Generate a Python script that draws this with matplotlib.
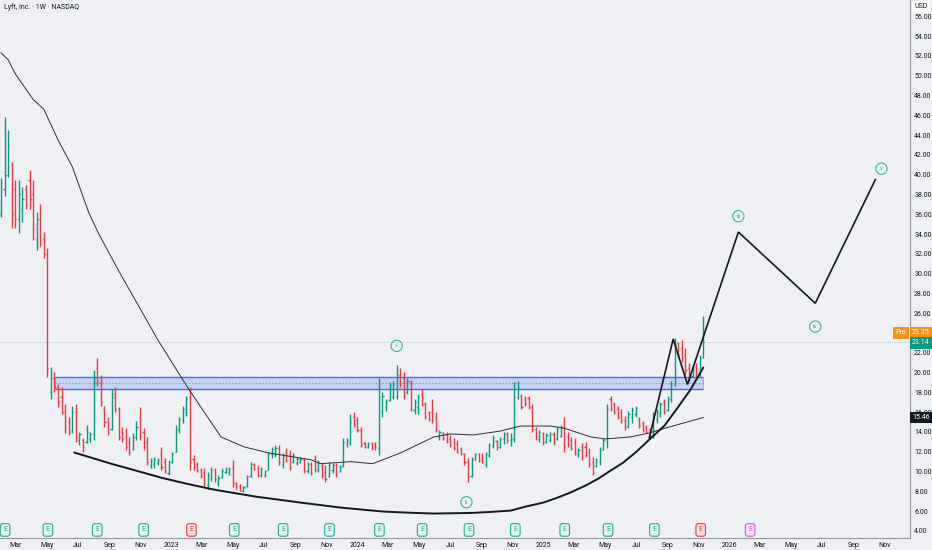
import matplotlib
matplotlib.use("Agg")
import matplotlib.pyplot as plt
import matplotlib.dates as mdates
import matplotlib.transforms as mtrans
from matplotlib.patches import Rectangle
import numpy as np
import pandas as pd

# --- weekly OHLC, LYFT, first week 2022-01-31 ---
first_week = "2022-01-31"
opens = [36.0, 38.5, 40.0, 41.0, 38.5, 35.5, 36.5, 38.5, 39.5, 38.0,
         33.5, 35.5, 33.5, 32.0, 18.0, 19.5, 18.5, 17.5, 16.0, 15.0,
         14.2, 16.0, 13.2, 13.2, 13.0, 13.3, 13.8, 20.5, 19.0, 16.3,
         15.0, 14.3, 17.8, 16.3, 14.0, 13.5, 13.0, 12.3, 13.5, 15.5,
         14.0, 13.0, 10.6, 10.8, 10.9, 11.8, 11.0, 9.9, 11.0, 12.0,
         14.2, 15.2, 16.0, 17.5, 11.3, 10.8, 10.2, 10.0, 8.6, 9.4,
         10.2, 8.8, 9.5, 10.0, 10.0, 10.5, 8.8, 8.5, 8.0, 8.5,
         9.6, 10.8, 10.4, 9.7, 9.7, 10.2, 11.8, 11.8, 12.4, 10.8,
         12.0, 11.8, 11.0, 10.9, 11.0, 11.2, 10.1, 10.8, 11.3, 10.2,
         10.6, 10.0, 9.6, 10.2, 10.7, 10.1, 10.6, 12.9, 13.0, 15.5,
         15.2, 14.2, 12.9, 12.5, 12.9, 12.8, 12.4, 16.0, 16.5, 17.2,
         17.5, 17.6, 19.8, 19.5, 18.0, 19.0, 16.2, 16.5, 17.8, 16.8,
         16.0, 16.0, 15.5, 13.5, 13.9, 13.8, 13.3, 13.0, 12.8, 12.3,
         11.8, 11.0, 9.6, 11.3, 11.8, 11.5, 10.8, 11.7, 12.6, 13.1,
         12.5, 13.3, 13.8, 13.2, 13.3, 17.5, 17.6, 17.3, 17.4, 16.5,
         14.3, 13.3, 13.9, 13.0, 13.2, 13.8, 13.3, 13.6, 14.5, 13.6,
         13.2, 13.0, 11.7, 12.5, 12.5, 12.0, 11.0, 10.6, 11.0, 12.3,
         13.0, 17.3, 16.8, 16.3, 16.0, 15.2, 14.6, 15.5, 15.8, 15.3,
         14.9, 14.5, 14.2, 13.5, 15.3, 15.8, 17.0, 16.2, 17.3, 18.7,
         23.0, 22.5, 21.8, 20.5, 19.7, 20.6, 19.9, 21.6]
highs = [39.7, 45.8, 44.5, 41.3, 39.5, 39.5, 38.7, 39.0, 40.5, 39.5,
         36.2, 37.0, 34.2, 32.6, 20.6, 20.1, 18.8, 18.5, 16.8, 15.5,
         16.6, 16.8, 14.0, 13.4, 14.7, 14.0, 20.3, 21.5, 19.8, 16.6,
         15.5, 18.3, 18.5, 16.5, 14.5, 14.4, 13.5, 13.9, 15.1, 16.5,
         14.4, 13.5, 11.4, 11.5, 11.4, 12.5, 11.4, 11.2, 12.0, 14.7,
         15.5, 16.6, 17.6, 18.5, 11.7, 11.0, 10.4, 10.4, 10.0, 10.5,
         10.4, 9.7, 10.4, 10.5, 10.5, 11.2, 8.9, 8.7, 8.5, 9.7,
         11.0, 10.9, 10.7, 10.5, 10.2, 12.0, 12.5, 12.7, 12.7, 11.9,
         12.4, 12.2, 11.9, 11.5, 11.5, 11.4, 11.0, 11.0, 11.7, 11.2,
         10.9, 10.7, 11.0, 10.9, 10.9, 10.7, 13.4, 13.4, 15.8, 16.0,
         15.5, 14.5, 13.0, 13.0, 13.0, 13.0, 19.5, 18.0, 17.3, 19.0,
         19.1, 20.8, 20.5, 20.1, 19.5, 19.3, 17.3, 17.8, 18.3, 17.0,
         16.1, 17.3, 16.0, 14.2, 14.0, 14.0, 13.7, 13.4, 13.2, 12.5,
         11.9, 11.4, 11.5, 11.9, 11.9, 11.9, 12.0, 12.9, 13.7, 13.2,
         13.5, 14.0, 14.0, 13.9, 19.0, 19.2, 17.8, 17.6, 17.6, 16.8,
         14.5, 14.2, 14.0, 13.9, 14.0, 14.0, 14.5, 14.7, 15.5, 14.0,
         13.5, 13.4, 12.4, 12.9, 13.0, 12.4, 11.5, 11.4, 12.5, 13.4,
         16.8, 17.6, 17.0, 16.6, 16.3, 15.6, 16.1, 16.5, 16.6, 15.5,
         15.1, 14.7, 14.4, 16.0, 16.3, 17.0, 17.3, 17.6, 19.1, 23.5,
         23.1, 23.3, 22.5, 21.0, 20.8, 21.0, 21.8, 25.7]
lows = [35.7, 37.8, 39.8, 34.6, 34.6, 34.1, 35.2, 36.5, 36.5, 33.4,
        32.4, 32.7, 31.6, 19.6, 17.3, 18.0, 16.5, 15.8, 13.9, 13.7,
        13.9, 13.0, 12.7, 12.0, 12.9, 13.0, 13.2, 18.6, 16.6, 14.5,
        13.7, 14.2, 16.0, 13.2, 13.0, 12.2, 11.7, 12.2, 13.2, 13.2,
        12.2, 10.7, 10.4, 10.4, 10.7, 10.2, 9.9, 9.7, 10.9, 12.0,
        13.9, 14.9, 15.6, 10.2, 10.2, 10.0, 9.4, 8.5, 8.2, 9.0,
        8.9, 8.5, 9.4, 9.9, 9.7, 8.4, 8.2, 8.0, 7.9, 8.4,
        9.5, 10.2, 9.5, 9.5, 9.5, 10.2, 11.4, 11.5, 10.7, 10.4,
        11.0, 10.2, 10.9, 10.7, 10.9, 9.9, 9.9, 9.7, 10.0, 10.0,
        9.4, 8.9, 9.5, 9.9, 9.5, 10.0, 10.5, 12.5, 12.7, 14.5,
        14.0, 12.5, 12.4, 12.4, 12.2, 12.2, 11.7, 15.5, 16.1, 17.1,
        17.3, 17.3, 18.5, 17.3, 17.8, 16.1, 15.8, 15.8, 16.6, 15.3,
        15.1, 14.9, 14.0, 13.2, 13.2, 12.9, 12.5, 12.2, 11.9, 11.7,
        10.7, 8.9, 9.5, 11.2, 11.0, 10.9, 10.5, 11.5, 12.4, 12.2,
        12.4, 12.8, 12.9, 12.6, 13.0, 17.3, 16.3, 16.6, 16.3, 14.0,
        13.2, 13.0, 12.7, 12.9, 13.0, 12.7, 13.2, 13.5, 12.0, 12.5,
        12.2, 11.7, 11.5, 11.2, 11.5, 10.5, 9.7, 10.5, 10.7, 12.2,
        12.4, 16.1, 15.8, 15.3, 14.9, 14.2, 14.4, 14.9, 15.5, 14.4,
        14.0, 13.9, 13.4, 13.4, 14.9, 15.5, 15.8, 16.1, 17.0, 18.6,
        21.5, 21.1, 19.8, 19.1, 19.6, 19.6, 19.6, 21.5]
closes = [39.2, 40.0, 43.0, 36.0, 35.5, 38.0, 37.5, 37.0, 37.5, 34.5,
          35.5, 33.0, 32.0, 20.5, 19.5, 18.5, 17.0, 16.0, 14.5, 14.0,
          16.0, 13.5, 13.8, 12.5, 14.0, 13.8, 19.0, 19.0, 17.0, 15.0,
          14.0, 17.5, 16.3, 13.5, 13.3, 12.5, 12.0, 13.5, 14.5, 13.5,
          12.5, 11.0, 11.2, 11.3, 11.2, 10.5, 10.1, 11.0, 11.8, 14.3,
          15.3, 16.3, 17.3, 11.0, 10.5, 10.2, 9.6, 8.8, 9.7, 10.2,
          9.2, 9.4, 10.1, 10.3, 10.3, 8.8, 8.4, 8.1, 8.4, 9.5,
          10.8, 10.3, 9.7, 10.3, 10.1, 11.8, 12.3, 12.4, 11.0, 11.6,
          11.2, 10.5, 11.7, 11.3, 11.3, 10.2, 10.8, 9.9, 10.3, 10.9,
          9.7, 9.3, 10.7, 10.7, 9.8, 10.5, 13.0, 13.2, 15.0, 14.8,
          14.2, 12.7, 12.5, 12.8, 12.4, 12.5, 17.5, 17.6, 17.0, 18.7,
          18.8, 19.8, 18.8, 17.6, 19.2, 16.3, 17.0, 17.5, 16.8, 15.5,
          15.3, 15.2, 14.2, 14.0, 13.4, 13.1, 12.7, 12.4, 12.0, 11.9,
          11.0, 9.5, 11.2, 11.8, 11.2, 11.0, 11.8, 12.7, 13.4, 12.5,
          13.3, 13.8, 13.2, 13.4, 17.5, 18.5, 16.5, 16.8, 16.5, 14.3,
          13.5, 14.0, 13.0, 13.7, 13.8, 13.0, 14.3, 14.4, 12.5, 12.8,
          12.4, 11.9, 12.2, 11.5, 11.7, 10.8, 9.9, 11.2, 12.2, 13.2,
          16.3, 16.3, 16.0, 15.5, 15.2, 14.5, 15.8, 16.2, 16.4, 14.6,
          14.2, 14.0, 13.6, 15.5, 16.0, 16.8, 16.0, 17.3, 18.7, 22.8,
          21.8, 21.5, 20.3, 19.5, 20.4, 19.9, 21.5, 23.14]

# moving average line
ma_dates = ["2022-01-31", "2022-02-14", "2022-03-01", "2022-04-04", "2022-04-25",
            "2022-05-23", "2022-06-20", "2022-07-22", "2022-08-10", "2022-09-21",
            "2022-12-05", "2023-01-19", "2023-02-04", "2023-04-08", "2023-05-23",
            "2023-07-09", "2023-10-01", "2023-10-21", "2023-12-19", "2024-01-31",
            "2024-03-26", "2024-05-30", "2024-07-02", "2024-08-16", "2024-10-08",
            "2024-11-16", "2025-01-14", "2025-02-09", "2025-04-03", "2025-05-02",
            "2025-06-20", "2025-07-27", "2025-09-04", "2025-11-10"]
ma_values = [52.3, 51.6, 50.1, 47.6, 46.6, 43.5, 40.8, 36.2, 34.1, 30.1,
             23.3, 19.6, 18.3, 13.5, 12.5, 11.9, 11.2, 10.8, 11.0, 10.8,
             11.9, 13.5, 13.8, 13.7, 14.1, 14.6, 14.6, 14.4, 13.5, 13.3,
             13.5, 13.9, 14.5, 15.46]

# rounded-bottom curve drawing
cup_dates = ["2022-06-24", "2022-07-27", "2022-09-03", "2022-10-23", "2022-12-11",
             "2023-01-29", "2023-03-25", "2023-06-15", "2023-09-11", "2023-11-29",
             "2024-02-21", "2024-04-14", "2024-05-29", "2024-08-10", "2024-09-18",
             "2024-10-28", "2024-11-26", "2024-12-31", "2025-01-28", "2025-02-22",
             "2025-03-24", "2025-04-18", "2025-05-12", "2025-06-06", "2025-07-02",
             "2025-07-27", "2025-08-26", "2025-09-18", "2025-10-16", "2025-11-10"]
cup_values = [11.92, 11.41, 10.81, 10.10, 9.39, 8.79, 8.18, 7.47, 6.87, 6.36,
              5.96, 5.84, 5.76, 5.82, 5.92, 6.06, 6.46, 6.87, 7.37, 7.88,
              8.59, 9.29, 10.10, 10.91, 12.02, 13.23, 14.65, 16.26, 18.28, 20.51]

# wave projection path
wave_dates = ["2025-07-27", "2025-09-12", "2025-10-10", "2026-01-18", "2026-06-18", "2026-10-14"]
wave_values = [13.4, 23.4, 18.8, 34.2, 27.0, 39.5]
wave_labels = ["i", "ii", "iii", "iv", "v"]
wave_label_dates = ["2024-03-18", "2024-08-02", "2026-01-18", "2026-06-18", "2026-10-26"]
wave_label_values = [22.7, 6.9, 35.8, 24.65, 40.6]

# resistance zone
zone_start, zone_end = "2022-05-17", "2025-11-10"
zone_low, zone_high = 18.35, 19.57

# earnings events
earn_dates = ["2022-02-08", "2022-05-03", "2022-08-08", "2022-11-07", "2023-02-09",
              "2023-05-04", "2023-08-08", "2023-11-07", "2024-02-13", "2024-05-07",
              "2024-08-07", "2024-11-06", "2025-02-11", "2025-05-07", "2025-08-06",
              "2025-11-05", "2026-02-10"]
earn_kind = ["g", "g", "g", "g", "r", "g", "g", "g", "g", "g",
             "g", "g", "g", "g", "g", "r", "p"]

price_ticks = [4, 6, 8, 10, 12, 14, 16, 18, 20, 22, 26, 28, 30, 32, 34, 36, 38,
               40, 42, 44, 46, 48, 50, 52, 54, 56]
last_close = 23.14
pre_price = 23.35
ma_last = 15.46

BG = "#eef0f4"
UP = "#089981"
DOWN = "#f23645"
TXT = "#131722"

plt.rcParams["font.family"] = ["Roboto", "DejaVu Sans"]

fig = plt.figure(figsize=(9.32, 5.5), dpi=100, facecolor=BG)
ax = fig.add_axes([0, 12 / 550, 910 / 932, 538 / 550], facecolor=BG)

x = mdates.date2num(pd.date_range(first_week, periods=len(opens), freq="7D"))
cols = [UP if c >= o else DOWN for o, c in zip(opens, closes)]
ax.vlines(x, lows, highs, colors=cols, lw=1.0, zorder=3)
ax.hlines(opens, x - 2.2, x, colors=cols, lw=1.0, zorder=3)
ax.hlines(closes, x, x + 2.2, colors=cols, lw=1.0, zorder=3)

# last price line
ax.axhline(last_close, color="#b2b5be", lw=0.6, ls=(0, (1, 1.5)), zorder=1)

# zone
zs, ze = mdates.date2num(pd.Timestamp(zone_start)), mdates.date2num(pd.Timestamp(zone_end))
ax.add_patch(Rectangle((zs, zone_low), ze - zs, zone_high - zone_low,
                       facecolor="#2962ff", alpha=0.2, edgecolor="none", zorder=2))
ax.hlines([zone_low, zone_high], zs, ze, colors="#3d6cf0", lw=1.0, zorder=2)
ax.vlines([zs, ze], zone_low, zone_high, colors="#3d6cf0", lw=0.6, alpha=0.6, zorder=2)
ax.hlines((zone_low + zone_high) / 2, zs, ze, colors="#6f8ff5", lw=0.6,
          linestyles=(0, (2, 2)), zorder=2)

ax.plot(pd.to_datetime(ma_dates), ma_values, color="#2a2e39", lw=0.7, zorder=4)
ax.plot(pd.to_datetime(cup_dates), cup_values, color="#131722", lw=1.4,
        solid_capstyle="round", solid_joinstyle="round", zorder=5)
ax.plot(pd.to_datetime(wave_dates), wave_values, color="#131722", lw=1.2,
        solid_joinstyle="miter", zorder=5)

for lab, d, v in zip(wave_labels, wave_label_dates, wave_label_values):
    ax.text(pd.Timestamp(d), v, lab, fontsize=4.5, color="#22ab94", ha="center",
            va="center", zorder=6,
            bbox=dict(boxstyle="circle,pad=0.5", fc="none", ec="#22ab94", lw=0.7))

# earnings markers
ekinds = {"g": ("#22ab94", "#e6f3f0"), "r": ("#f23645", "#f8e4e6"), "p": ("#d65ad6", "#f3e4f3")}
xtr = ax.get_xaxis_transform()
for d, k in zip(earn_dates, earn_kind):
    ec, fc = ekinds[k]
    ax.text(pd.Timestamp(d), 0.015, "E", transform=xtr, fontsize=5, color=ec,
            ha="center", va="center", zorder=6, clip_on=False,
            bbox=dict(boxstyle="round,pad=0.4,rounding_size=0.35", fc=fc, ec=ec, lw=0.8))

ax.set_xlim(mdates.date2num(pd.Timestamp("2022-01-29")), mdates.date2num(pd.Timestamp("2026-12-21")))
ax.set_ylim(3.29, 57.64)

ax.xaxis.set_major_locator(mdates.MonthLocator(bymonth=[1, 3, 5, 7, 9, 11]))
ax.xaxis.set_major_formatter(plt.FuncFormatter(
    lambda v, p: str(mdates.num2date(v).year) if mdates.num2date(v).month == 1
    else mdates.num2date(v).strftime("%b")))
ax.yaxis.tick_right()
ax.set_yticks(price_ticks)
ax.yaxis.set_major_formatter(plt.FormatStrFormatter("%.2f"))
ax.tick_params(axis="both", length=0, labelsize=5, labelcolor=TXT)
ax.tick_params(axis="x", pad=3)
ax.tick_params(axis="y", pad=3)
for s in ["top", "left"]:
    ax.spines[s].set_visible(False)
for s in ["right", "bottom"]:
    ax.spines[s].set_color("#9598a1")
    ax.spines[s].set_linewidth(0.8)

# price scale labels
btr = mtrans.blended_transform_factory(fig.transFigure, ax.transData)
ax.text(921 / 932, 24.0, f"{pre_price:.2f}", transform=btr, fontsize=5, color="white",
        ha="center", va="center", zorder=7, clip_on=False,
        bbox=dict(boxstyle="square,pad=0.35", fc="#f7931a", ec="none"))
ax.text(901 / 932, 24.0, "Pre", transform=btr, fontsize=5, color="white",
        ha="center", va="center", zorder=7, clip_on=False,
        bbox=dict(boxstyle="square,pad=0.35", fc="#f7931a", ec="none"))
ax.text(921 / 932, 23.03, f"{last_close:.2f}", transform=btr, fontsize=5, color="white",
        ha="center", va="center", zorder=7, clip_on=False,
        bbox=dict(boxstyle="square,pad=0.35", fc=UP, ec="none"))
ax.text(921 / 932, ma_last, f"{ma_last:.2f}", transform=btr, fontsize=5, color="white",
        ha="center", va="center", zorder=7, clip_on=False,
        bbox=dict(boxstyle="square,pad=0.35", fc=TXT, ec="none"))
fig.text(921 / 932, 1 - 7 / 550, "USD", fontsize=5, color=TXT, ha="center", va="center",
         zorder=7, bbox=dict(boxstyle="square,pad=0.4", fc="white", ec="none"))

fig.text(4 / 932, 1 - 7 / 550, "Lyft, Inc. · 1W · NASDAQ", fontsize=5, color=TXT,
         ha="left", va="center")

fig.savefig("out.png", dpi=100, facecolor=BG)
